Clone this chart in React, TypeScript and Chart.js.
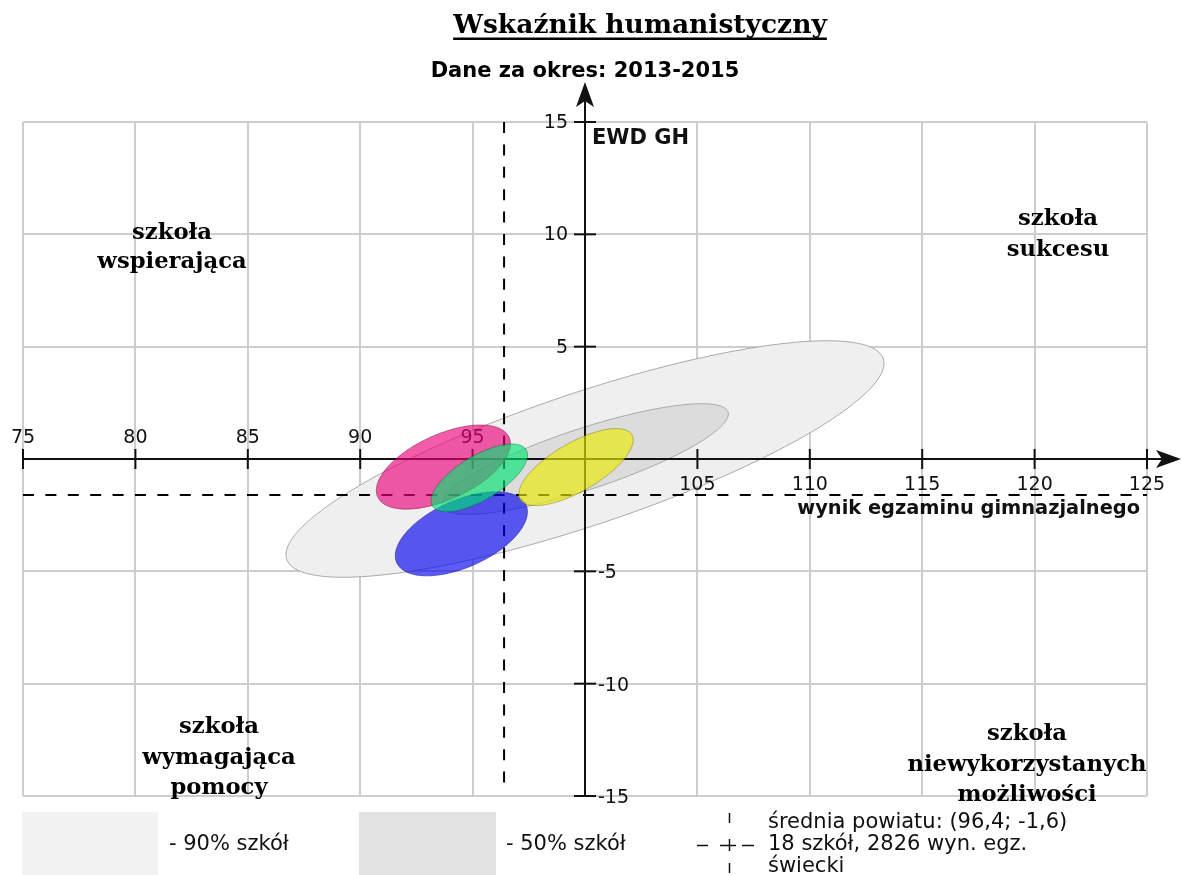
import React, { useEffect, useRef } from 'react';
import { Chart, registerables } from 'chart.js';

Chart.register(...registerables);

// ---------------- data ----------------
const titleText = 'Wskaźnik humanistyczny';
const periodText = 'Dane za okres: 2013-2015';
const xAxisTitle = 'wynik egzaminu gimnazjalnego';
const yAxisTitle = 'EWD GH';
const xRange = [75, 125];
const yRange = [-15, 15];
const xTickValues = [75, 80, 85, 90, 95, 100, 105, 110, 115, 120, 125];
const yTickValues = [-15, -10, -5, 0, 5, 10, 15];
const countyMeanX = 96.4;
const countyMeanY = -1.6;

// ellipses: county-wide 90% / 50% regions, then the four schools
const ellipseNames = ['90% szkół', '50% szkół', 'szkoła 1', 'szkoła 2', 'szkoła 3', 'szkoła 4'];
const ellipseCenterX = [100, 100, 93.7, 94.5, 95.3, 99.6];
const ellipseCenterY = [0, 0, -0.36, -3.33, -0.84, -0.36];
const ellipseSemiMajor = [14.0, 6.7, 3.21, 3.15, 2.43, 2.87];
const ellipseSemiMinor = [2.94, 1.36, 1.45, 1.49, 0.98, 1.08];
const ellipseTiltDeg = [18.6, 18.2, 24.5, 24.1, 31, 30];

const quadrantLabels = [
  ['szkoła', 'wspierająca'],
  ['szkoła', 'sukcesu'],
  ['szkoła', 'wymagająca', 'pomocy'],
  ['szkoła', 'niewykorzystanych', 'możliwości'],
];
const legendTexts = ['- 90% szkół', '- 50% szkół'];
const meanLegendLines = ['średnia powiatu: (96,4; -1,6)', '18 szkół, 2826 wyn. egz.', 'świecki'];

// ---------------- styles / layout ----------------
const ellipseFill = [
  '#efefef',
  '#dcdcdc',
  'rgba(234,0,120,0.64)',
  'rgba(0,0,240,0.64)',
  'rgba(0,228,112,0.64)',
  'rgba(234,234,0,0.64)',
];
const ellipseStroke = [
  '#a9a9a9',
  '#a9a9a9',
  'rgba(110,0,55,0.45)',
  'rgba(0,0,110,0.45)',
  'rgba(0,100,50,0.45)',
  'rgba(110,110,0,0.45)',
];
const SANS = "'DejaVu Sans', sans-serif";
const SERIF = "'DejaVu Serif', serif";
const quadrantLayout = [
  { x: 172, ys: [239, 268] },
  { x: 1058, ys: [225, 256] },
  { x: 219, ys: [733, 764, 794] },
  { x: 1027, ys: [740, 771, 801] },
];

function ellipsePath(ctx: CanvasRenderingContext2D, xs: any, ys: any, i: number) {
  const th = (ellipseTiltDeg[i] * Math.PI) / 180;
  const a = ellipseSemiMajor[i];
  const b = ellipseSemiMinor[i];
  const cx = ellipseCenterX[i];
  const cy = ellipseCenterY[i];
  ctx.beginPath();
  const n = 200;
  for (let k = 0; k <= n; k++) {
    const t = (k / n) * Math.PI * 2;
    const u = a * Math.cos(t);
    const v = b * Math.sin(t);
    const dx = u * Math.cos(th) - v * Math.sin(th);
    const dy = u * Math.sin(th) + v * Math.cos(th);
    const px = xs.getPixelForValue(cx + dx);
    const py = ys.getPixelForValue(cy + dy);
    if (k === 0) ctx.moveTo(px, py);
    else ctx.lineTo(px, py);
  }
  ctx.closePath();
}

function drawEllipse(ctx: CanvasRenderingContext2D, xs: any, ys: any, i: number) {
  ellipsePath(ctx, xs, ys, i);
  ctx.fillStyle = ellipseFill[i];
  ctx.fill();
  ctx.lineWidth = 1;
  ctx.strokeStyle = ellipseStroke[i];
  ctx.stroke();
}

function seg(ctx: CanvasRenderingContext2D, x1: number, y1: number, x2: number, y2: number) {
  ctx.beginPath();
  ctx.moveTo(x1, y1);
  ctx.lineTo(x2, y2);
  ctx.stroke();
}

const ewdPlugin = {
  id: 'ewdPlugin',
  beforeDatasetsDraw(chart: any) {
    const { ctx, chartArea } = chart;
    const xs = chart.scales.x;
    const ys = chart.scales.y;
    const { left, right, top, bottom } = chartArea;
    ctx.save();
    // grid
    ctx.strokeStyle = '#cdcdcd';
    ctx.lineWidth = 2;
    xTickValues.forEach((v) => {
      const px = Math.round(xs.getPixelForValue(v));
      seg(ctx, px, top, px, bottom);
    });
    yTickValues.forEach((v) => {
      const py = Math.round(ys.getPixelForValue(v));
      seg(ctx, left, py, right, py);
    });
    // county ellipses (grey)
    drawEllipse(ctx, xs, ys, 0);
    drawEllipse(ctx, xs, ys, 1);

    const x0 = xs.getPixelForValue(100);
    const y0 = ys.getPixelForValue(0);

    // mean dashed lines
    ctx.strokeStyle = '#000';
    ctx.lineWidth = 2;
    ctx.setLineDash([11, 11.4]);
    const mx = xs.getPixelForValue(countyMeanX);
    const my = ys.getPixelForValue(countyMeanY);
    seg(ctx, left, my, right, my);
    seg(ctx, mx, top, mx, ys.getPixelForValue(-14.5));
    ctx.setLineDash([]);

    // axes
    ctx.strokeStyle = '#111';
    ctx.fillStyle = '#111';
    ctx.lineWidth = 2;
    seg(ctx, left, y0, 1168, y0);
    seg(ctx, x0, bottom, x0, 100);
    // x arrow
    ctx.beginPath();
    ctx.moveTo(1181, y0);
    ctx.lineTo(1156, y0 - 9);
    ctx.lineTo(1162, y0);
    ctx.lineTo(1156, y0 + 9);
    ctx.closePath();
    ctx.fill();
    // y arrow
    ctx.beginPath();
    ctx.moveTo(x0, 82);
    ctx.lineTo(x0 - 9, 107);
    ctx.lineTo(x0, 101);
    ctx.lineTo(x0 + 9, 107);
    ctx.closePath();
    ctx.fill();

    // ticks
    ctx.lineWidth = 2;
    xTickValues.forEach((v) => {
      if (v === 100) return;
      const px = xs.getPixelForValue(v);
      seg(ctx, px, y0 - 10, px, y0 + 10);
    });
    yTickValues.forEach((v) => {
      if (v === 0) return;
      const py = ys.getPixelForValue(v);
      seg(ctx, x0 - 11, py, x0 + 11, py);
    });

    // tick labels
    ctx.font = `19px ${SANS}`;
    ctx.fillStyle = '#111';
    ctx.textAlign = 'center';
    ctx.textBaseline = 'alphabetic';
    xTickValues.forEach((v) => {
      if (v === 100) return;
      const px = xs.getPixelForValue(v);
      if (v < 100) ctx.fillText(String(v), px, y0 - 16);
      else ctx.fillText(String(v), px, y0 + 31);
    });
    ctx.textBaseline = 'middle';
    yTickValues.forEach((v) => {
      if (v === 0) return;
      const py = ys.getPixelForValue(v);
      if (v > 0) {
        ctx.textAlign = 'right';
        ctx.fillText(String(v), x0 - 17, py + 1);
      } else {
        ctx.textAlign = 'left';
        ctx.fillText(String(v), x0 + 13, py + 2);
      }
    });

    // axis titles
    ctx.font = `bold 21px ${SANS}`;
    ctx.textBaseline = 'alphabetic';
    ctx.textAlign = 'left';
    ctx.fillText(yAxisTitle, x0 + 7, 144);
    ctx.font = `bold 19.4px ${SANS}`;
    ctx.textAlign = 'right';
    ctx.fillText(xAxisTitle, 1140, 514);
    ctx.restore();
  },
  afterDatasetsDraw(chart: any) {
    const { ctx } = chart;
    const xs = chart.scales.x;
    const ys = chart.scales.y;
    ctx.save();
    for (let i = 2; i < ellipseNames.length; i++) drawEllipse(ctx, xs, ys, i);
    ctx.restore();
  },
  afterDraw(chart: any) {
    const { ctx } = chart;
    ctx.save();
    ctx.fillStyle = '#000';
    // title
    ctx.font = `bold 26.5px ${SERIF}`;
    ctx.textAlign = 'center';
    ctx.textBaseline = 'alphabetic';
    ctx.fillText(titleText, 640, 33);
    const tw = ctx.measureText(titleText).width;
    ctx.fillRect(640 - tw / 2, 37.5, tw, 2.5);
    // period
    ctx.font = `bold 21px ${SANS}`;
    ctx.fillText(periodText, 585, 77);

    // quadrant labels
    ctx.font = `bold 22.7px ${SERIF}`;
    quadrantLabels.forEach((lines, qi) => {
      const L = quadrantLayout[qi];
      lines.forEach((t, li) => ctx.fillText(t, L.x, L.ys[li]));
    });

    // legend
    ctx.fillStyle = '#f2f2f2';
    ctx.fillRect(22, 812, 136, 70);
    ctx.fillStyle = '#e3e3e3';
    ctx.fillRect(359, 812, 137, 70);
    ctx.fillStyle = '#111';
    ctx.font = `21px ${SANS}`;
    ctx.textAlign = 'left';
    ctx.textBaseline = 'middle';
    ctx.fillText(legendTexts[0], 169, 845);
    ctx.fillText(legendTexts[1], 506, 845);
    // mean symbol
    ctx.strokeStyle = '#111';
    ctx.lineWidth = 1.5;
    seg(ctx, 729.5, 813, 729.5, 823);
    seg(ctx, 729.5, 839, 729.5, 851);
    seg(ctx, 729.5, 863, 729.5, 873);
    seg(ctx, 697, 845.5, 708, 845.5);
    seg(ctx, 720, 845.5, 736, 845.5);
    seg(ctx, 742, 845.5, 754, 845.5);
    meanLegendLines.forEach((t, i) => ctx.fillText(t, 768, 823 + i * 22));
    ctx.restore();
  },
};

export default function App() {
  const ref = useRef<HTMLCanvasElement | null>(null);
  useEffect(() => {
    if (!ref.current) return;
    const chart = new Chart(ref.current, {
      type: 'scatter',
      data: {
        datasets: ellipseNames.map((name, i) => ({
          label: name,
          data: [{ x: ellipseCenterX[i], y: ellipseCenterY[i] }],
          pointRadius: 0,
          pointHoverRadius: 0,
        })),
      },
      options: {
        responsive: false,
        animation: false,
        layout: { padding: { left: 23, right: 35, top: 122, bottom: 79 } },
        scales: {
          x: { type: 'linear', min: xRange[0], max: xRange[1], display: false },
          y: { type: 'linear', min: yRange[0], max: yRange[1], display: false },
        },
        plugins: { legend: { display: false }, tooltip: { enabled: false }, title: { display: false } },
      },
      plugins: [ewdPlugin],
    });
    return () => chart.destroy();
  }, []);
  return (
    <div style={{ position: 'absolute', left: 0, top: 0, width: 1182, height: 875, background: '#fff' }}>
      <canvas ref={ref} width={1182} height={875} style={{ display: 'block' }} />
    </div>
  );
}
